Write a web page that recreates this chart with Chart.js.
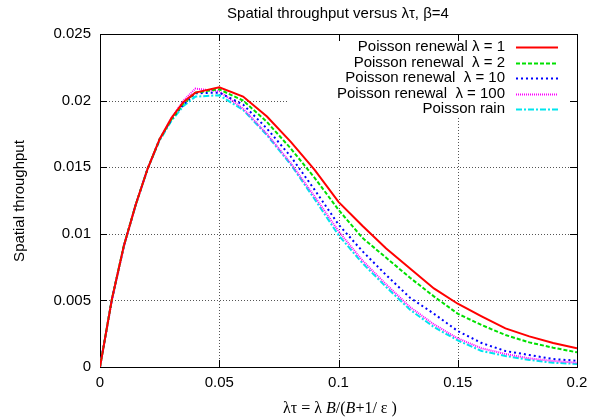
<!DOCTYPE html>
<html>
<head>
<meta charset="utf-8">
<script src="https://cdn.jsdelivr.net/npm/chart.js@4/dist/chart.umd.min.js"></script>
<style>
    html, body { margin: 0; padding: 0; background: #fff; }
    #wrap { width: 602px; height: 419px; }
</style>
</head>
<body>
<div id="wrap"><canvas id="chart" width="602" height="419"></canvas></div>
<script>
// x = lambda * tau
const xs = [0, 0.005, 0.01, 0.015, 0.02, 0.025, 0.03, 0.035, 0.04, 0.05, 0.06, 0.07, 0.08, 0.09, 0.1,
    0.11, 0.12, 0.13, 0.14, 0.15, 0.16, 0.17, 0.18, 0.19, 0.2]

const renewal1 = [0, 0.0051, 0.0091, 0.0122, 0.0149, 0.0171, 0.0187, 0.0199, 0.0206, 0.0210, 0.0203, 0.0188, 0.0169, 0.0148, 0.0124,
    0.0106, 0.0089, 0.0074, 0.0059, 0.00475, 0.0038, 0.0029, 0.0023, 0.0018, 0.0014]
const renewal2 = [0, 0.0051, 0.0091, 0.0122, 0.0149, 0.0171, 0.0186, 0.0198, 0.0206, 0.02085, 0.0200, 0.0184, 0.0164, 0.0142, 0.0118,
    0.0097, 0.0082, 0.0067, 0.0053, 0.0040, 0.00315, 0.0024, 0.00185, 0.00145, 0.0011]
const renewal10 = [0, 0.0051, 0.0091, 0.0122, 0.0149, 0.0171, 0.0186, 0.0197, 0.02055, 0.0206, 0.0197, 0.0179, 0.0158, 0.0133, 0.0107,
    0.0087, 0.0069, 0.0052, 0.0040, 0.0027, 0.0018, 0.0012, 0.0009, 0.0006, 0.00047]
const renewal100 = [0, 0.0050, 0.0090, 0.0122, 0.0149, 0.0171, 0.0187, 0.0200, 0.0209, 0.0207, 0.0194, 0.0175, 0.0153, 0.0128, 0.0102,
    0.0080, 0.0062, 0.0045, 0.0032, 0.00215, 0.0014, 0.00098, 0.00065, 0.00045, 0.00032]
const rain = [0, 0.0051, 0.0091, 0.0122, 0.0149, 0.0170, 0.0185, 0.0196, 0.0203, 0.0204, 0.0193, 0.0174, 0.0152, 0.0126, 0.0099,
    0.0078, 0.0060, 0.0043, 0.0030, 0.0020, 0.0012, 0.00083, 0.00053, 0.00032, 0.00023]

const seriesLabels = [
    'Poisson renewal \u03bb = 1',
    'Poisson renewal  \u03bb = 2',
    'Poisson renewal  \u03bb = 10',
    'Poisson renewal  \u03bb = 100',
    'Poisson rain'
]
const seriesValues = [renewal1, renewal2, renewal10, renewal100, rain]
const seriesColors = ['#ff0000', '#00e000', '#0000ff', '#ff00ff', '#00e5ee']
const seriesDash = [[], [4, 2], [2, 3], [1, 1], [6, 2, 2, 2]]

const xTicks = [0, 0.05, 0.1, 0.15, 0.2]
const yTicks = [0, 0.005, 0.01, 0.015, 0.02, 0.025]

const SANS = '"Liberation Sans", Arial, Helvetica, sans-serif'
const SERIF = '"Liberation Serif", "Times New Roman", serif'

const datasets = seriesValues.map((vals, i) => ({
    label: seriesLabels[i],
    data: xs.map((x, j) => ({ x: x, y: vals[j] })),
    borderColor: seriesColors[i],
    borderWidth: 2,
    borderDash: seriesDash[i],
    pointRadius: 0,
    tension: 0,
    fill: false
}))

// gnuplot-like frame: dotted grid, opaque key box, inward ticks on all sides
const framePlugin = {
    id: 'frame',
    beforeDatasetsDraw(chart) {
        const { ctx, chartArea: a, scales: { x, y } } = chart
        ctx.save()
        ctx.strokeStyle = '#555'
        ctx.lineWidth = 1
        ctx.setLineDash([1, 2])
        ctx.beginPath()
        xTicks.slice(1, -1).forEach(v => {
            const px = Math.round(x.getPixelForValue(v)) + 0.5
            ctx.moveTo(px, a.top); ctx.lineTo(px, a.bottom)
        })
        yTicks.slice(1, -1).forEach(v => {
            const py = Math.round(y.getPixelForValue(v)) + 0.5
            ctx.moveTo(a.left, py); ctx.lineTo(a.right, py)
        })
        ctx.stroke()
        ctx.setLineDash([])
        // key box covers the grid
        ctx.fillStyle = '#fff'
        ctx.fillRect(287, a.top, a.right - 287, 117 - a.top)

        ctx.strokeStyle = '#000'
        ctx.beginPath()
        const tl = 7
        xTicks.forEach(v => {
            const px = Math.round(x.getPixelForValue(v)) + 0.5
            ctx.moveTo(px, a.bottom); ctx.lineTo(px, a.bottom - tl)
            ctx.moveTo(px, a.top); ctx.lineTo(px, a.top + tl)
        })
        yTicks.forEach(v => {
            const py = Math.round(y.getPixelForValue(v)) + 0.5
            ctx.moveTo(a.left, py); ctx.lineTo(a.left + tl, py)
            ctx.moveTo(a.right, py); ctx.lineTo(a.right - tl, py)
        })
        ctx.stroke()
        ctx.strokeRect(Math.round(a.left) + 0.5, Math.round(a.top) + 0.5,
            Math.round(a.right - a.left), Math.round(a.bottom - a.top))
        ctx.restore()
    },
    afterDatasetsDraw(chart) {
        const { ctx } = chart
        ctx.save()
        // key
        ctx.font = '15px ' + SANS
        ctx.fillStyle = '#000'
        ctx.textAlign = 'right'
        ctx.textBaseline = 'middle'
        seriesLabels.forEach((lab, i) => {
            const ry = 47 + i * 15.5
            ctx.fillText(lab, 505, ry)
            ctx.strokeStyle = seriesColors[i]
            ctx.lineWidth = 2
            ctx.setLineDash(seriesDash[i])
            ctx.beginPath()
            ctx.moveTo(516, Math.round(ry) + 0.5)
            ctx.lineTo(558, Math.round(ry) + 0.5)
            ctx.stroke()
        })
        ctx.setLineDash([])

        // title
        ctx.textAlign = 'center'
        ctx.font = '15px ' + SANS
        ctx.fillText('Spatial throughput versus \u03bb\u03c4, \u03b2=4', 338, 14)

        // y axis title
        ctx.save()
        ctx.translate(20, 201)
        ctx.rotate(-Math.PI / 2)
        ctx.fillText('Spatial throughput', 0, 0)
        ctx.restore()

        // x axis title, mixed italic serif
        const parts = [
            ['\u03bb\u03c4 = \u03bb ', false], ['B', true], ['/(', false],
            ['B', true], ['+1/ \u03b5 )', false]
        ]
        const fontOf = it => (it ? 'italic ' : '') + '16px ' + SERIF
        let total = 0
        parts.forEach(([t, it]) => { ctx.font = fontOf(it); total += ctx.measureText(t).width })
        let cx = 340 - total / 2
        ctx.textAlign = 'left'
        parts.forEach(([t, it]) => {
            ctx.font = fontOf(it)
            ctx.fillText(t, cx, 409)
            cx += ctx.measureText(t).width
        })
        ctx.restore()
    }
}

const fmt = v => String(+Number(v).toFixed(4))

const config = {
    type: 'line',
    data: { datasets: datasets },
    options: {
        responsive: false,
        animation: false,
        layout: { padding: { top: 34, right: 25, left: 0, bottom: 0 } },
        plugins: {
            legend: { display: false },
            title: { display: false },
            tooltip: { enabled: false }
        },
        scales: {
            x: {
                type: 'linear',
                min: 0,
                max: 0.2,
                afterFit: s => { s.height = 52 },
                afterBuildTicks: s => { s.ticks = xTicks.map(v => ({ value: v })) },
                grid: { display: false, drawTicks: false },
                border: { display: false },
                ticks: {
                    callback: fmt,
                    padding: 7,
                    maxRotation: 0,
                    color: '#000',
                    font: { family: SANS, size: 15 }
                }
            },
            y: {
                min: 0,
                max: 0.025,
                afterFit: s => { s.width = 100 },
                afterBuildTicks: s => { s.ticks = yTicks.map(v => ({ value: v })) },
                grid: { display: false, drawTicks: false },
                border: { display: false },
                ticks: {
                    callback: fmt,
                    padding: 9,
                    color: '#000',
                    font: { family: SANS, size: 15 }
                }
            }
        }
    },
    plugins: [framePlugin]
}

const ctx = document.getElementById('chart').getContext('2d')
const chart = new Chart(ctx, config)
</script>
</body>
</html>
